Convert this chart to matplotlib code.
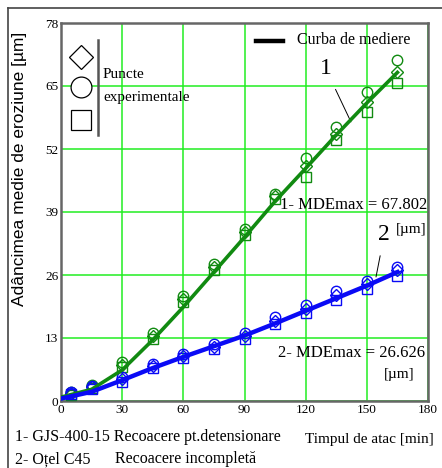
import numpy as np
import matplotlib
matplotlib.use("Agg")
from matplotlib import pyplot as plt
from matplotlib.lines import Line2D

# Timpul de atac [min] for the measured points
t_pts = [5, 15, 30, 45, 60, 75, 90, 105, 120, 135, 150, 165]

# 1 - GJS-400-15 (green), three measurement sets
g_circle = [1.8, 3.4, 8.0, 14.0, 21.6, 28.2, 35.4, 42.8, 50.1, 56.5, 63.7, 70.3]
g_diamond = [1.5, 3.0, 7.4, 13.4, 21.0, 27.6, 34.8, 42.2, 48.4, 55.0, 61.8, 67.9]
g_square = [1.2, 2.6, 7.0, 12.8, 20.4, 27.0, 34.2, 41.6, 46.2, 53.8, 59.6, 65.6]

# 2 - Otel C45 (blue)
b_circle = [1.8, 3.0, 5.0, 7.6, 9.6, 11.8, 14.0, 17.4, 19.8, 22.6, 24.8, 27.6]
b_diamond = [1.6, 2.8, 4.6, 7.2, 9.2, 11.2, 13.4, 16.6, 19.0, 21.8, 24.2, 27.0]
b_square = [1.4, 2.4, 4.0, 6.8, 8.8, 10.8, 12.8, 15.8, 18.2, 20.8, 23.2, 25.8]

# averaging curves (Curba de mediere)
t_fit = [0, 15, 30, 45, 60, 75, 90, 105, 120, 135, 150, 165]
g_fit = [0.8, 2.4, 6.4, 12.6, 19.4, 26.6, 33.8, 41.2, 48.0, 54.9, 61.5, 67.8]
b_fit = [0.5, 1.9, 4.3, 6.8, 9.1, 11.3, 13.5, 16.0, 18.6, 21.2, 23.8, 26.6]

x_ticks = [0, 30, 60, 90, 120, 150, 180]
y_ticks = [0, 13, 26, 39, 52, 65, 78]

green = "#118a11"
blue = "#0a0af5"
grid_c = "#22ee22"
serif = "Liberation Serif"

fig = plt.figure(figsize=(4.42, 4.68), dpi=100)
ax = fig.add_axes([61 / 442, 1 - 401 / 468, (428 - 61) / 442, (401 - 23) / 468])

ax.set_xlim(0, 180)
ax.set_ylim(0, 78)
ax.set_xticks(x_ticks)
ax.set_yticks(y_ticks)
ax.grid(True, color=grid_c, linewidth=1.1)
ax.set_axisbelow(True)
ax.tick_params(length=0, pad=2, labelsize=9.5)
for lab in ax.get_xticklabels() + ax.get_yticklabels():
    lab.set_family(serif)
for sp in ax.spines.values():
    sp.set_color("#666666")
    sp.set_linewidth(1.8)

# measured points
ms = 7.5
for vals, mk, c in [(g_diamond, "D", green), (g_circle, "o", green), (g_square, "s", green),
                    (b_diamond, "D", blue), (b_circle, "o", blue), (b_square, "s", blue)]:
    ax.plot(t_pts, vals, linestyle="none", marker=mk, markersize=ms if mk != "D" else ms - 1.5,
            markerfacecolor="none", markeredgecolor=c, markeredgewidth=1.0, zorder=3)

# averaging curves
ax.plot(t_fit, g_fit, color=green, linewidth=2.6, zorder=4)
ax.plot(t_fit, b_fit, color=blue, linewidth=3.2, zorder=4)

# curve labels with leaders
ax.annotate("1", xy=(142.2, 57.6), xytext=(129.8, 68.6), fontsize=17, family=serif,
            ha="center", va="center",
            arrowprops=dict(arrowstyle="-", color="black", linewidth=0.7, shrinkA=6, shrinkB=0))
ax.annotate("2", xy=(154.5, 25.6), xytext=(158.6, 34.4), fontsize=17, family=serif,
            ha="center", va="center",
            arrowprops=dict(arrowstyle="-", color="black", linewidth=0.7, shrinkA=6, shrinkB=0))

# max values
ax.text(179.5, 40.4, "1- MDEmax = 67.802", ha="right", va="center", fontsize=12, family=serif)
ax.text(179.5, 35.3, "[µm]", ha="right", va="center", fontsize=11, family=serif)
ax.text(178.5, 9.9, "2- MDEmax = 26.626", ha="right", va="center", fontsize=12, family=serif)
ax.text(173.5, 5.4, "[µm]", ha="right", va="center", fontsize=11, family=serif)

# legend for the points (drawn by hand, top left)
for (px, py), mk, sz in [((81, 57), "D", 12), ((81, 87), "o", 15), ((81, 120), "s", 14)]:
    fig.add_artist(Line2D([px / 442], [1 - py / 468], marker=mk, markersize=sz,
                          markerfacecolor="white", markeredgecolor="black",
                          markeredgewidth=0.9, linestyle="none"))
fig.add_artist(Line2D([98 / 442, 98 / 442], [1 - 40 / 468, 1 - 135 / 468],
                      color="#555555", linewidth=1.8))
fig.text(103 / 442, 1 - 75 / 468, "Puncte", fontsize=11, family=serif, va="center")
fig.text(103 / 442, 1 - 98 / 468, "experimentale", fontsize=11, family=serif, va="center")

# legend for the curve
fig.add_artist(Line2D([256 / 442, 283 / 442], [1 - 41 / 468, 1 - 41 / 468],
                      color="black", linewidth=3.2))
fig.text(297 / 442, 1 - 40 / 468, "Curba de mediere", fontsize=11.5, family=serif, va="center")

# axis titles
fig.text(20 / 442, 1 - 169 / 468, "Adâncimea medie de eroziune [µm]", rotation=90,
         fontsize=12.5, family="Liberation Sans", ha="center", va="center")
fig.text(305 / 442, 1 - 440 / 468, "Timpul de atac [min]", fontsize=11, family=serif, va="center")

# material notes
fig.text(15 / 442, 1 - 437 / 468, "1- GJS-400-15 Recoacere pt.detensionare", fontsize=11.5,
         family=serif, va="center")
fig.text(15 / 442, 1 - 459 / 468, "2- Oțel C45", fontsize=11.5, family=serif, va="center")
fig.text(115 / 442, 1 - 459 / 468, "Recoacere incompletă", fontsize=11.5, family=serif, va="center")

# outer frame (top and left)
fig.add_artist(Line2D([8 / 442, 1.0], [1 - 8 / 468, 1 - 8 / 468], color="#444444", linewidth=1.2))
fig.add_artist(Line2D([8 / 442, 8 / 442], [0.0, 1 - 8 / 468], color="#444444", linewidth=1.2))

fig.savefig("out.png", dpi=100)
